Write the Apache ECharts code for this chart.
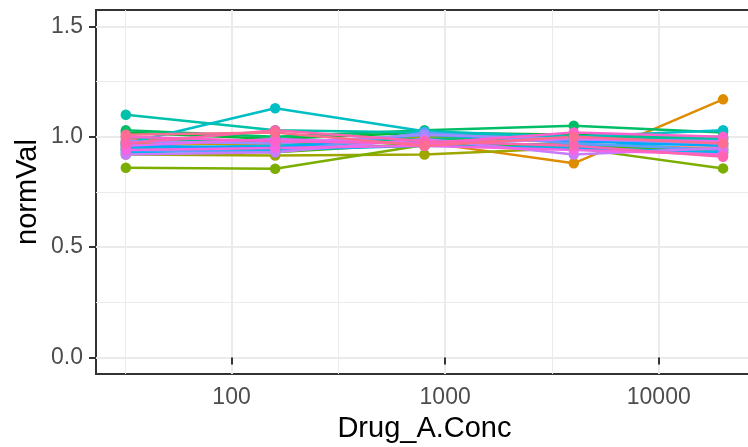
<!DOCTYPE html>
<html>
<head>
<meta charset="utf-8">
<script src="https://cdn.jsdelivr.net/npm/echarts@6/dist/echarts.min.js"></script>
<style>html,body{margin:0;padding:0;background:#fff}#chart{width:748px;height:447px}</style>
</head>
<body>
<div id="chart"></div>
<script>
// ---- data ----
const concentrations = [32, 160, 800, 4000, 20000];
const xMajorTicks = [100, 1000, 10000];
const yMajorTicks = [0, 0.5, 1.0, 1.5];
const yLimits = [0, 1.5];
const s01 = [0.99, 0.98, 0.97, 0.96, 0.95];
const s02 = [0.96, 0.95, 0.96, 0.97, 0.94];
const s03 = [0.97, 0.97, 0.975, 0.88, 1.17];
const s04 = [0.98, 0.96, 0.99, 0.98, 0.97];
const s05 = [0.95, 0.94, 1.00, 0.99, 0.96];
const s06 = [0.92, 0.915, 0.92, 0.95, 0.93];
const s07 = [0.86, 0.855, 0.963, 0.95, 0.857];
const s08 = [0.94, 0.93, 0.97, 0.96, 0.94];
const s09 = [1.02, 0.99, 1.02, 1.01, 0.99];
const s10 = [1.03, 1.00, 1.03, 1.05, 1.02];
const s11 = [1.00, 0.97, 0.99, 1.00, 1.00];
const s12 = [1.10, 1.03, 1.02, 0.99, 0.99];
const s13 = [0.97, 1.13, 1.025, 1.00, 1.03];
const s14 = [0.95, 0.96, 0.98, 0.96, 0.97];
const s15 = [0.93, 0.94, 0.96, 0.95, 0.93];
const s16 = [0.96, 0.95, 1.01, 0.98, 0.96];
const s17 = [0.94, 0.93, 1.02, 0.97, 0.94];
const s18 = [0.98, 0.97, 1.01, 0.99, 0.97];
const s19 = [0.92, 0.93, 0.99, 0.92, 0.95];
const s20 = [0.96, 0.99, 0.97, 0.99, 0.98];
const s21 = [0.94, 0.95, 0.96, 0.94, 0.92];
const s22 = [1.00, 0.98, 0.97, 1.02, 1.00];
const s23 = [0.97, 1.03, 0.98, 0.96, 0.91];
const s24 = [1.01, 1.02, 0.96, 1.00, 0.97];
const seriesValues = [s01,s02,s03,s04,s05,s06,s07,s08,s09,s10,s11,s12,s13,s14,s15,s16,s17,s18,s19,s20,s21,s22,s23,s24];

// ---- ggplot-like hue palette ----
function hcl(h, c, l) {
  const hr = h * Math.PI / 180;
  const U = c * Math.cos(hr), V = c * Math.sin(hr);
  const Xn = 95.047, Yn = 100, Zn = 108.883;
  const den = Xn + 15 * Yn + 3 * Zn;
  const un = 4 * Xn / den, vn = 9 * Yn / den;
  const Y = l > 7.999592 ? Yn * Math.pow((l + 16) / 116, 3) : Yn * l / 903.3;
  const u = U / (13 * l) + un, v = V / (13 * l) + vn;
  const X = 9 * Y * u / (4 * v);
  const Z = -X / 3 - 5 * Y + 3 * Y / v;
  const x = X / 100, y = Y / 100, z = Z / 100;
  const lin = [
    3.240479 * x - 1.537150 * y - 0.498535 * z,
    -0.969256 * x + 1.875992 * y + 0.041556 * z,
    0.055648 * x - 0.204043 * y + 1.057311 * z
  ];
  return '#' + lin.map(t => {
    let g = t <= 0.0031308 ? 12.92 * t : 1.055 * Math.pow(t, 1 / 2.4) - 0.055;
    g = Math.max(0, Math.min(1, g));
    return Math.round(g * 255).toString(16).padStart(2, '0');
  }).join('');
}
const n = seriesValues.length;
const colors = seriesValues.map((_, i) => hcl(15 + 360 * i / n, 100, 65));

// ---- scales ----
const lx = concentrations.map(c => Math.log10(c));
const xLo = Math.min(...lx), xHi = Math.max(...lx);
const xPad = 0.05 * (xHi - xLo);
const xMin = xLo - xPad, xMax = xHi + xPad;
const yPad = 0.05 * (yLimits[1] - yLimits[0]);
const yMin = yLimits[0] - yPad, yMax = yLimits[1] + yPad;
const xMajor = xMajorTicks.map(v => Math.log10(v));
const xMinor = [];
for (let k = Math.floor(xMin); k <= Math.ceil(xMax); k++) { const m = k + 0.5; if (m > xMin && m < xMax) xMinor.push(m); }
const yMinor = [];
for (let i = 0; i < yMajorTicks.length - 1; i++) yMinor.push((yMajorTicks[i] + yMajorTicks[i + 1]) / 2);

const FONT = '"Liberation Sans", Arial, sans-serif';
const gridW = (xMax - xMin) * 213.6;

const lineSeries = seriesValues.map((vals, i) => ({
  type: 'line', xAxisIndex: 0, yAxisIndex: 0,
  data: vals.map((v, j) => [lx[j], v]),
  showSymbol: false, silent: true,
  lineStyle: { color: colors[i], width: 2.5 },
  z: 2
}));
const pointSeries = seriesValues.map((vals, i) => ({
  type: 'scatter', xAxisIndex: 0, yAxisIndex: 0,
  data: vals.map((v, j) => [lx[j], v]),
  symbol: 'circle', symbolSize: 10.5, silent: true,
  itemStyle: { color: colors[i], opacity: 1 },
  z: 3
}));

const chart = echarts.init(document.getElementById('chart'), null, { renderer: 'canvas' });
chart.setOption({
  animation: false,
  backgroundColor: '#ffffff',
  grid: { left: 96, top: 10, width: gridW, height: 364, outerBoundsMode: 'none', containLabel: false,
    show: true, borderColor: '#333333', borderWidth: 2, backgroundColor: 'transparent' },
  xAxis: [
    {
      type: 'value', min: xMin, max: xMax,
      name: 'Drug_A.Conc', nameLocation: 'middle', nameGap: 40, nameMoveOverlap: false,
      nameTextStyle: { color: '#000', fontSize: 29, fontFamily: FONT },
      axisLine: { show: false },
      axisTick: { show: true, length: 7, lineStyle: { color: '#333', width: 2 }, customValues: xMajor },
      axisLabel: { show: true, customValues: xMajor, margin: 12, color: '#4D4D4D', fontSize: 23, fontFamily: FONT,
        formatter: v => String(Math.round(Math.pow(10, v))) },
      splitLine: { show: true, lineStyle: { color: '#EBEBEB', width: 2 } }
    },
    {
      type: 'value', min: xMin, max: xMax, position: 'bottom',
      axisLine: { show: false },
      axisTick: { show: false, customValues: xMinor },
      axisLabel: { show: false, customValues: xMinor },
      splitLine: { show: true, lineStyle: { color: '#EBEBEB', width: 1 } }
    }
  ],
  yAxis: [
    {
      type: 'value', min: yMin, max: yMax,
      name: 'normVal', nameLocation: 'middle', nameGap: 54, nameMoveOverlap: false,
      nameTextStyle: { color: '#000', fontSize: 29, fontFamily: FONT },
      axisLine: { show: false },
      axisTick: { show: true, length: 7, lineStyle: { color: '#333', width: 2 }, customValues: yMajorTicks },
      axisLabel: { show: true, customValues: yMajorTicks, margin: 13, color: '#4D4D4D', fontSize: 23, fontFamily: FONT,
        formatter: v => v.toFixed(1) },
      splitLine: { show: true, lineStyle: { color: '#EBEBEB', width: 2 } }
    },
    {
      type: 'value', min: yMin, max: yMax, position: 'left',
      axisLine: { show: false },
      axisTick: { show: false, customValues: yMinor },
      axisLabel: { show: false, customValues: yMinor },
      splitLine: { show: true, lineStyle: { color: '#EBEBEB', width: 1 } }
    }
  ],
  series: lineSeries.concat(pointSeries)
});
</script>
</body>
</html>
